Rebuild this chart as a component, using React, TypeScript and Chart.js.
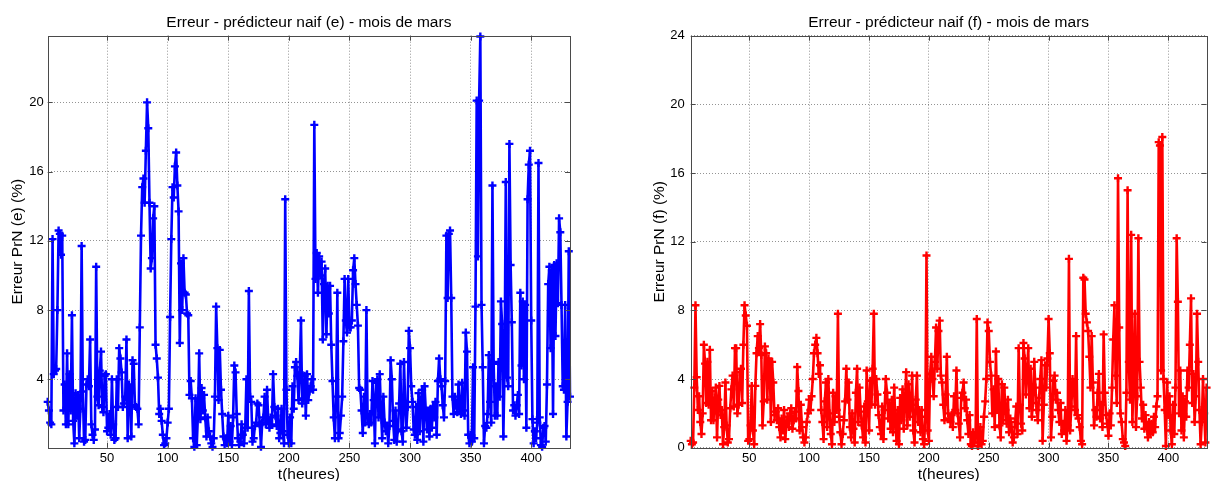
import React, { useEffect, useRef } from "react";
import { Chart, registerables } from "chart.js";

Chart.register(...registerables);

// hours 1..432 (18 days of March)
const hours: number[] = Array.from({ length: 432 }, (_, i) => i + 1);

const xTickValues = [50, 100, 150, 200, 250, 300, 350, 400];
const yTicksE = [4, 8, 12, 16, 20];
const yTicksF = [0, 4, 8, 12, 16, 20, 24];

const titleE = "Erreur - prédicteur naif (e) - mois de mars";
const titleF = "Erreur - prédicteur naif (f) - mois de mars";
const yLabelE = "Erreur PrN (e) (%)";
const yLabelF = "Erreur PrN (f) (%)";
const xLabel = "t(heures)";

// Error of naive predictor (e), % — one row per day (24 h)
const errE: number[] = [
  2.7, 2.2, 1.5, 1.4, 12.1, 4.3, 4.5, 4.6, 8.0, 12.6, 12.4, 11.2, 12.3, 2.2, 3.7, 1.4, 5.5, 1.4, 4.3, 2.2, 7.7, 1.6, 0.3, 3.2,
  1.9, 3.1, 0.6, 2.3, 11.7, 3.3, 0.4, 0.5, 3.7, 4.0, 3.6, 6.3, 1.4, 0.8, 0.5, 1.1, 10.5, 3.0, 2.5, 4.5, 5.6, 2.4, 2.1, 4.2,
  4.3, 1.0, 1.2, 2.0, 0.8, 4.0, 1.4, 0.5, 0.6, 4.0, 2.4, 5.8, 5.2, 4.4, 2.4, 2.6, 3.0, 6.3, 0.6, 3.7, 3.5, 0.7, 5.1, 4.9,
  2.5, 2.4, 2.3, 1.4, 7.0, 12.3, 15.1, 15.6, 14.2, 17.2, 20.0, 18.5, 14.2, 10.4, 11.0, 13.3, 14.0, 6.0, 5.2, 4.1, 2.0, 2.3, 1.6, 0.8,
  0.2, 0.3, 0.6, 1.5, 2.3, 7.6, 12.1, 15.1, 14.5, 16.3, 17.1, 15.2, 13.7, 6.1, 10.7, 8.0, 11.0, 9.0, 8.9, 7.8, 7.7, 3.1, 3.9, 2.9,
  0.6, 0.1, 2.9, 0.2, 2.0, 5.5, 1.7, 3.5, 2.2, 3.1, 1.8, 0.7, 1.8, 1.0, 0.7, 0.3, 0.1, 0.6, 3.0, 8.2, 5.8, 2.8, 5.7, 3.4,
  2.0, 0.7, 0.2, 0.6, 0.3, 1.9, 0.4, 1.3, 0.2, 1.8, 4.8, 4.4, 2.0, 0.6, 0.2, 0.4, 1.4, 0.8, 0.3, 1.2, 4.0, 1.2, 9.1, 3.0,
  2.7, 0.4, 0.6, 1.3, 1.5, 2.6, 2.5, 1.4, 0.1, 1.5, 1.8, 3.0, 1.4, 3.4, 1.6, 1.2, 1.8, 1.4, 4.3, 2.4, 1.9, 1.3, 2.3, 0.6,
  0.9, 2.3, 1.0, 0.3, 14.4, 3.4, 0.8, 0.3, 1.8, 0.3, 3.6, 2.3, 4.7, 5.0, 4.2, 2.8, 4.4, 7.4, 2.6, 2.9, 4.2, 1.9, 4.3, 2.8,
  3.3, 3.6, 4.0, 3.4, 18.7, 9.8, 11.3, 9.0, 11.1, 10.0, 10.8, 6.3, 9.5, 10.4, 6.6, 9.4, 7.8, 9.4, 6.0, 3.9, 1.8, 0.6, 3.0, 9.0,
  0.6, 0.9, 1.9, 3.0, 6.2, 9.8, 7.4, 6.7, 9.8, 7.0, 7.0, 7.4, 10.3, 11.0, 9.5, 8.3, 7.1, 3.5, 3.4, 2.2, 0.9, 3.0, 1.5, 8.0,
  1.8, 1.4, 2.0, 1.5, 3.9, 2.8, 0.3, 3.8, 4.0, 1.8, 4.3, 2.2, 0.6, 3.0, 1.5, 1.0, 1.3, 0.3, 1.3, 5.1, 4.0, 1.6, 0.5, 2.2,
  0.4, 1.1, 2.6, 4.9, 1.0, 0.4, 5.0, 2.6, 1.2, 2.4, 6.8, 5.8, 3.6, 2.7, 1.1, 0.8, 2.4, 0.5, 3.2, 1.0, 2.8, 3.4, 0.4, 3.6,
  2.2, 1.1, 2.2, 0.7, 2.3, 1.2, 2.4, 1.8, 2.7, 0.8, 3.9, 5.2, 4.0, 3.6, 2.5, 1.8, 3.9, 12.3, 8.7, 12.4, 12.6, 8.7, 3.0, 2.0,
  3.0, 2.5, 2.1, 3.7, 2.3, 2.0, 3.8, 2.2, 1.9, 6.7, 5.6, 0.8, 0.3, 0.8, 0.4, 4.7, 0.6, 8.2, 20.1, 11.1, 20.1, 23.8, 8.3, 4.7,
  0.3, 1.3, 1.2, 2.0, 5.4, 2.7, 1.5, 15.2, 4.9, 1.9, 3.6, 1.9, 5.0, 3.0, 8.5, 7.2, 0.7, 4.6, 15.4, 4.1, 3.6, 17.6, 10.6, 7.3,
  2.2, 2.5, 1.9, 2.5, 3.1, 2.0, 9.0, 4.8, 8.5, 4.0, 8.3, 1.2, 14.4, 16.4, 17.2, 7.4, 1.7, 0.3, 1.0, 0.6, 1.5, 16.5, 1.8, 0.2,
  0.1, 1.2, 1.3, 0.4, 3.7, 9.5, 10.5, 5.8, 10.3, 2.0, 10.6, 6.5, 10.7, 8.4, 13.3, 12.5, 8.3, 3.6, 3.4, 8.3, 0.7, 2.7, 11.4, 3.0,
];

// Error of naive predictor (f), % — one row per day (24 h)
const errF: number[] = [
  0.4, 0.2, 0.3, 3.5, 8.3, 4.1, 2.2, 3.0, 1.5, 0.8, 2.0, 6.0, 4.9, 2.6, 5.0, 2.5, 5.7, 1.6, 3.3, 1.6, 2.6, 3.5, 0.6, 2.8,
  3.6, 1.9, 2.2, 0.2, 1.2, 3.8, 1.3, 0.3, 0.5, 2.3, 3.4, 4.2, 2.4, 5.8, 5.8, 2.0, 2.5, 4.4, 4.6, 2.6, 6.0, 8.3, 7.7, 7.1,
  0.4, 0.5, 1.3, 3.6, 1.0, 0.2, 3.6, 5.5, 6.5, 5.8, 7.2, 5.4, 1.3, 2.7, 5.9, 5.5, 2.8, 5.2, 5.0, 1.5, 5.0, 3.8, 1.9, 2.1,
  1.6, 2.3, 1.2, 0.6, 1.7, 1.0, 2.2, 0.5, 1.4, 1.8, 1.2, 2.0, 2.3, 1.1, 1.6, 2.1, 1.7, 4.7, 3.3, 1.0, 2.5, 1.2, 0.6, 0.3,
  0.6, 1.5, 2.0, 2.8, 2.2, 3.0, 4.0, 5.5, 6.0, 6.4, 5.5, 4.3, 4.8, 2.2, 1.5, 0.5, 2.7, 3.8, 1.2, 4.0, 2.0, 0.8, 0.2, 3.2,
  1.5, 3.0, 2.2, 7.8, 1.8, 0.9, 0.2, 0.8, 1.6, 2.7, 4.6, 2.8, 3.8, 1.2, 0.6, 2.0, 1.1, 0.3, 3.2, 4.6, 1.5, 3.5, 2.1, 1.3,
  0.6, 2.4, 0.3, 4.5, 2.7, 1.0, 3.9, 2.5, 4.6, 7.8, 2.5, 4.0, 3.1, 1.9, 1.2, 0.8, 2.4, 0.5, 2.2, 4.0, 3.2, 1.7, 2.6, 1.1,
  2.8, 0.9, 3.5, 1.5, 0.4, 2.2, 0.2, 2.9, 1.6, 3.4, 1.1, 2.7, 4.4, 1.3, 3.7, 1.8, 2.5, 4.2, 1.0, 0.3, 2.8, 4.2, 1.5, 2.2,
  0.9, 2.2, 0.5, 0.2, 1.8, 11.2, 1.0, 0.4, 4.3, 5.3, 4.0, 3.0, 5.0, 7.0, 4.6, 6.8, 7.4, 4.2, 3.8, 2.5, 1.6, 3.1, 5.3, 2.0,
  1.7, 1.5, 1.9, 1.2, 3.0, 2.2, 4.5, 2.0, 1.4, 0.6, 2.9, 3.2, 3.8, 2.3, 2.8, 1.6, 0.8, 1.9, 0.2, 0.1, 0.9, 0.3, 0.6, 7.5,
  0.1, 0.3, 1.2, 0.2, 0.4, 1.8, 2.7, 4.0, 7.3, 6.8, 5.0, 4.2, 2.0, 3.4, 1.2, 5.6, 2.2, 4.0, 1.3, 0.6, 3.7, 1.6, 3.5, 2.2,
  1.4, 2.8, 0.9, 1.7, 1.2, 0.3, 0.6, 1.5, 2.4, 0.8, 5.8, 2.5, 1.4, 1.0, 6.1, 5.2, 3.1, 4.5, 5.8, 2.3, 4.6, 1.8, 2.6, 5.0,
  3.5, 2.2, 1.6, 2.9, 4.0, 5.1, 0.4, 2.5, 4.8, 3.5, 5.2, 7.5, 5.5, 0.6, 1.8, 3.9, 4.2, 2.8, 3.2, 2.2, 1.5, 2.6, 0.8, 1.4,
  1.0, 2.2, 0.4, 1.3, 11.0, 1.0, 2.4, 4.0, 3.8, 2.2, 6.5, 1.9, 1.7, 1.2, 0.4, 0.2, 9.9, 9.8, 7.8, 7.3, 6.8, 5.3, 3.5, 6.5,
  3.8, 1.3, 2.2, 1.8, 3.2, 4.3, 1.7, 2.5, 1.2, 6.6, 3.2, 1.9, 1.4, 0.7, 2.0, 1.3, 3.5, 6.3, 8.3, 4.2, 2.6, 15.7, 7.0, 2.0,
  1.5, 0.5, 0.3, 0.1, 3.2, 15.0, 5.0, 2.8, 12.4, 1.5, 4.0, 7.8, 1.2, 3.0, 12.2, 5.0, 3.5, 1.7, 2.5, 1.1, 1.9, 1.2, 0.6, 1.5,
  0.8, 1.4, 0.9, 1.8, 1.2, 2.4, 3.0, 17.8, 17.6, 4.5, 18.1, 4.0, 2.2, 0.1, 3.8, 1.9, 3.0, 1.0, 0.2, 2.5, 0.8, 3.5, 12.2, 8.5,
  2.0, 4.5, 1.0, 3.0, 0.6, 2.7, 1.8, 4.5, 3.5, 6.0, 8.7, 2.6, 4.3, 1.5, 3.0, 7.8, 5.0, 2.2, 0.2, 1.5, 4.0, 2.0, 0.3, 3.5,
];

const FONT = "'Liberation Sans', Arial, Helvetica, sans-serif";

const boxPlugin = {
  id: "matlabBox",
  afterDraw(chart: any) {
    const { ctx, chartArea: a, scales } = chart;
    ctx.save();
    ctx.strokeStyle = "#4a4a4a";
    ctx.lineWidth = 1;
    ctx.beginPath();
    const tl = 5;
    for (const t of scales.x.ticks) {
      const px = Math.round(scales.x.getPixelForValue(t.value)) + 0.5;
      ctx.moveTo(px, a.bottom);
      ctx.lineTo(px, a.bottom - tl);
      ctx.moveTo(px, a.top);
      ctx.lineTo(px, a.top + tl);
    }
    for (const t of scales.y.ticks) {
      const py = Math.round(scales.y.getPixelForValue(t.value)) + 0.5;
      ctx.moveTo(a.left, py);
      ctx.lineTo(a.left + tl, py);
      ctx.moveTo(a.right, py);
      ctx.lineTo(a.right - tl, py);
    }
    ctx.stroke();
    ctx.strokeRect(
      Math.round(a.left) + 0.5,
      Math.round(a.top) + 0.5,
      Math.round(a.right - a.left),
      Math.round(a.bottom - a.top)
    );
    ctx.restore();
  },
};

type Geom = {
  yAxisWidth: number;
  padRight: number;
  yTitlePad: number;
  yTickPad: number;
};

function makeConfig(
  values: number[],
  color: string,
  title: string,
  yLabel: string,
  yMin: number,
  yMax: number,
  yTicks: number[],
  g: Geom
): any {
  return {
    type: "line",
    data: {
      datasets: [
        {
          data: values.map((v, i) => ({ x: hours[i], y: v })),
          borderColor: color,
          backgroundColor: color,
          borderWidth: 2.6,
          borderJoinStyle: "round",
          pointStyle: "cross",
          pointRadius: 4,
          pointBorderWidth: 2.4,
          pointBorderColor: color,
          tension: 0,
          clip: false,
        },
      ],
    },
    options: {
      animation: false,
      responsive: false,
      devicePixelRatio: 1,
      events: [],
      layout: { padding: { left: 0, right: g.padRight, top: 0, bottom: 0 } },
      plugins: {
        legend: { display: false },
        tooltip: { enabled: false },
        title: {
          display: true,
          text: title,
          color: "#000",
          fullSize: false,
          font: { family: FONT, size: 15.5, weight: "normal", lineHeight: 1 },
          padding: { top: 15, bottom: 5.2 },
        },
      },
      scales: {
        x: {
          type: "linear",
          min: 1,
          max: 432,
          afterBuildTicks: (s: any) => {
            s.ticks = xTickValues.map((v) => ({ value: v }));
          },
          afterFit: (s: any) => {
            s.height = 33.3;
          },
          ticks: {
            color: "#000",
            font: { family: FONT, size: 13 },
            padding: 3,
            maxRotation: 0,
            autoSkip: false,
          },
          grid: { color: "rgba(0,0,0,0.42)", lineWidth: 1, drawTicks: false },
          border: { display: false, dash: [1, 2] },
          title: {
            display: true,
            text: xLabel,
            color: "#000",
            font: { family: FONT, size: 15.5, lineHeight: 0.8 },
            padding: { top: 0, bottom: 0 },
          },
        },
        y: {
          type: "linear",
          min: yMin,
          max: yMax,
          afterBuildTicks: (s: any) => {
            s.ticks = yTicks.map((v) => ({ value: v }));
          },
          afterFit: (s: any) => {
            s.width = g.yAxisWidth;
          },
          ticks: {
            color: "#000",
            font: { family: FONT, size: 13 },
            padding: g.yTickPad,
          },
          grid: { color: "rgba(0,0,0,0.42)", lineWidth: 1, drawTicks: false },
          border: { display: false, dash: [1, 2] },
          title: {
            display: true,
            text: yLabel,
            color: "#000",
            font: { family: FONT, size: 15.5, lineHeight: 1 },
            padding: { top: g.yTitlePad, bottom: 0 },
          },
        },
      },
    },
    plugins: [boxPlugin],
  };
}

export default function App() {
  const leftRef = useRef<HTMLCanvasElement | null>(null);
  const rightRef = useRef<HTMLCanvasElement | null>(null);

  useEffect(() => {
    const charts: Chart[] = [];
    if (leftRef.current) {
      charts.push(
        new Chart(
          leftRef.current,
          makeConfig(errE, "#0000ff", titleE, yLabelE, 0.05, 23.85, yTicksE, {
            yAxisWidth: 47.7,
            padRight: 30,
            yTitlePad: 9.5,
            yTickPad: 4,
          })
        )
      );
    }
    if (rightRef.current) {
      charts.push(
        new Chart(
          rightRef.current,
          makeConfig(errF, "#ff0000", titleF, yLabelF, 0, 24, yTicksF, {
            yAxisWidth: 77.7,
            padRight: 1.5,
            yTitlePad: 39,
            yTickPad: 6,
          })
        )
      );
    }
    return () => {
      charts.forEach((c) => c.destroy());
    };
  }, []);

  return (
    <div
      style={{
        position: "fixed",
        left: 0,
        top: 0,
        width: 1213,
        height: 481,
        background: "#fff",
        overflow: "hidden",
      }}
    >
      <canvas
        ref={leftRef}
        width={600}
        height={481}
        style={{ position: "absolute", left: 0, top: 0, width: 600, height: 481 }}
      />
      <canvas
        ref={rightRef}
        width={600}
        height={481}
        style={{ position: "absolute", left: 613, top: 0, width: 600, height: 481 }}
      />
    </div>
  );
}
